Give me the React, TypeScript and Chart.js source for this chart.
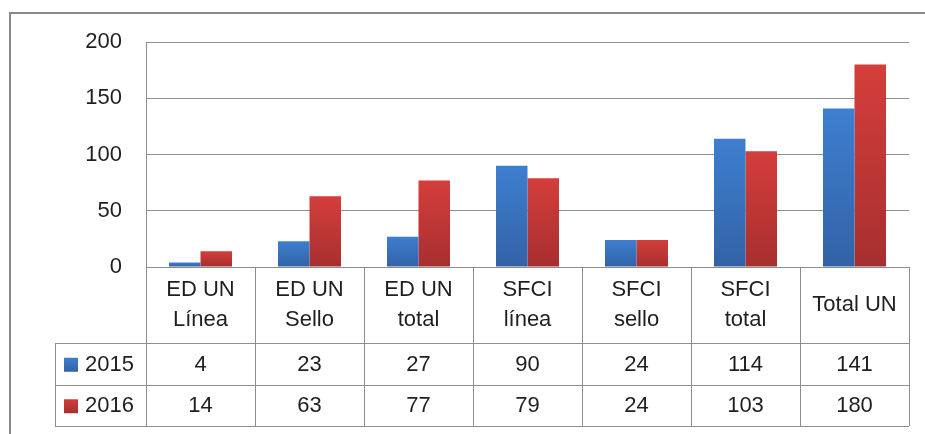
import React, { useEffect, useRef } from "react";
import { Chart, registerables } from "chart.js";

Chart.register(...registerables);

const categories: string[][] = [
  ["ED UN", "Línea"],
  ["ED UN", "Sello"],
  ["ED UN", "total"],
  ["SFCI", "línea"],
  ["SFCI", "sello"],
  ["SFCI", "total"],
  ["Total UN"],
];
const seriesNames = ["2015", "2016"];
const values2015 = [4, 23, 27, 90, 24, 114, 141];
const values2016 = [14, 63, 77, 79, 24, 103, 180];
const yMin = 0;
const yMax = 200;
const yStep = 50;

const FONT = "'Liberation Sans', Arial, sans-serif";
const TEXT = "#1f1f1f";
const LINE = "#8e8e8e";
const palettes = [
  { top: "#3e7fd0", bottom: "#3262a6" },
  { top: "#d43e3b", bottom: "#a72f2f" },
];

function barGradient(ctx: any, idx: number) {
  const chart = ctx.chart;
  const pal = palettes[idx];
  const ys = chart.scales && chart.scales.y;
  if (!ys || ctx.parsed == null) return pal.top;
  const top = ys.getPixelForValue(ctx.parsed.y);
  const bottom = ys.getPixelForValue(0);
  if (!isFinite(top) || !isFinite(bottom) || top === bottom) return pal.top;
  const g = chart.ctx.createLinearGradient(0, top, 0, bottom);
  g.addColorStop(0, pal.top);
  g.addColorStop(1, pal.bottom);
  return g;
}

const tablePlugin = {
  id: "dataTable",
  afterDraw(chart: any) {
    const ctx = chart.ctx as CanvasRenderingContext2D;
    const area = chart.chartArea;
    const xs = chart.scales.x;
    const n = categories.length;
    const colW = (area.right - area.left) / n;
    const headerBottom = 343;
    const rowH = 41.5;
    const tableBottom = headerBottom + rowH * 2;
    const legendLeft = 55;

    ctx.save();
    // outer frame
    ctx.strokeStyle = "#8a8a8a";
    ctx.lineWidth = 2;
    ctx.strokeRect(10, 13, 930, 440);

    // table lines
    ctx.strokeStyle = LINE;
    ctx.lineWidth = 1;
    ctx.beginPath();
    for (let i = 0; i <= n; i++) {
      const x = Math.round(area.left + i * colW) + 0.5;
      ctx.moveTo(x, area.bottom);
      ctx.lineTo(x, tableBottom);
    }
    ctx.moveTo(legendLeft + 0.5, headerBottom);
    ctx.lineTo(legendLeft + 0.5, tableBottom);
    [headerBottom, headerBottom + rowH, tableBottom].forEach((y) => {
      const yy = Math.round(y) + 0.5;
      ctx.moveTo(legendLeft, yy);
      ctx.lineTo(area.right, yy);
    });
    ctx.stroke();

    // header labels
    ctx.fillStyle = TEXT;
    ctx.font = `22px ${FONT}`;
    ctx.textAlign = "center";
    ctx.textBaseline = "middle";
    const headerMid = (area.bottom + headerBottom) / 2;
    const lh = 30;
    categories.forEach((lines, i) => {
      const cx = xs.getPixelForValue(i);
      const start = headerMid - ((lines.length - 1) * lh) / 2;
      lines.forEach((t, j) => ctx.fillText(t, cx, start + j * lh));
    });

    // value rows
    const rows = [values2015, values2016];
    rows.forEach((vals, r) => {
      const cy = headerBottom + rowH * r + rowH / 2 + 1;
      vals.forEach((v, i) => {
        ctx.fillText(String(v), xs.getPixelForValue(i), cy);
      });
      // legend key
      const pal = palettes[r];
      const g = ctx.createLinearGradient(0, cy - 7, 0, cy + 7);
      g.addColorStop(0, pal.top);
      g.addColorStop(1, pal.bottom);
      ctx.fillStyle = g;
      ctx.fillRect(64, cy - 7, 14, 14);
      ctx.fillStyle = TEXT;
      ctx.textAlign = "left";
      ctx.fillText(seriesNames[r], 85, cy);
      ctx.textAlign = "center";
    });
    ctx.restore();
  },
};

export default function App() {
  const ref = useRef<HTMLCanvasElement | null>(null);
  useEffect(() => {
    if (!ref.current) return;
    const chart = new Chart(ref.current, {
      type: "bar",
      data: {
        labels: categories.map((c) => c.join(" ")),
        datasets: [
          {
            label: seriesNames[0],
            data: values2015,
            backgroundColor: (c: any) => barGradient(c, 0),
            borderWidth: 0,
          },
          {
            label: seriesNames[1],
            data: values2016,
            backgroundColor: (c: any) => barGradient(c, 1),
            borderWidth: 0,
          },
        ],
      },
      options: {
        responsive: false,
        animation: false,
        layout: { padding: { left: 0, top: 42, right: 16, bottom: 167 } },
        plugins: { legend: { display: false }, tooltip: { enabled: false } },
        datasets: { bar: { categoryPercentage: 0.578, barPercentage: 1 } },
        scales: {
          x: {
            display: true,
            ticks: { display: false },
            grid: { display: false },
            border: { display: false },
            afterFit: (s: any) => {
              s.height = 0;
            },
          },
          y: {
            min: yMin,
            max: yMax,
            ticks: {
              stepSize: yStep,
              color: TEXT,
              font: { family: FONT, size: 22 },
              padding: 24,
            },
            grid: { color: LINE, lineWidth: 1, drawTicks: false },
            border: { display: true, color: LINE, width: 1 },
            afterFit: (s: any) => {
              s.width = 146;
            },
          },
        },
      } as any,
      plugins: [tablePlugin],
    });
    return () => chart.destroy();
  }, []);
  return (
    <div style={{ position: "fixed", left: 0, top: 0, width: 925, height: 434, background: "#fff" }}>
      <canvas ref={ref} width={925} height={434} style={{ display: "block" }} />
    </div>
  );
}
